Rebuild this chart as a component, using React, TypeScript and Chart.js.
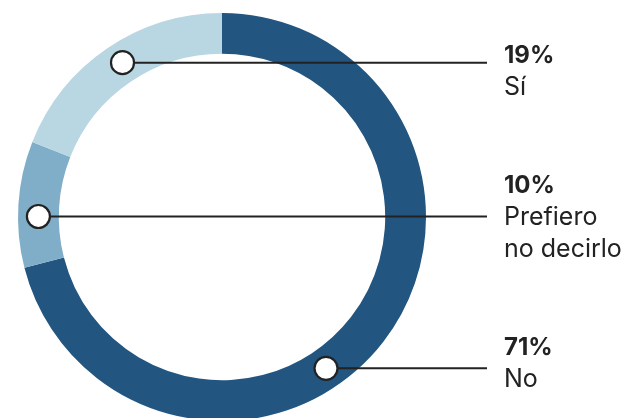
import React, { useEffect, useRef } from "react";
import { Chart, registerables } from "chart.js";

Chart.register(...registerables);

const categories = ["No", "Prefiero no decirlo", "Sí"];
const labelLines = [["No"], ["Prefiero", "no decirlo"], ["Sí"]];
const values = [71, 10, 19];
const percentLabels = ["71%", "10%", "19%"];
const colors = ["#22557f", "#80aec8", "#b9d6e3"];

// layout of the annotation blocks (percent baseline, leader-line y)
const labelBaselines = [355, 193, 63];
const leaderYs = [368.3, 216.5, 62.7];

const W = 639;
const H = 436;

const calloutPlugin = {
  id: "callouts",
  afterDraw(chart: any) {
    const ctx = chart.ctx as CanvasRenderingContext2D;
    const meta = chart.getDatasetMeta(0);
    const textX = 504;
    const lineEnd = 487;
    const lh = 32;
    ctx.save();
    meta.data.forEach((arc: any, i: number) => {
      const p = arc.getProps(["x", "y", "innerRadius", "outerRadius", "startAngle", "endAngle"], true);
      const rm = (p.innerRadius + p.outerRadius) / 2;
      const mid = (p.startAngle + p.endAngle) / 2;
      const ly = leaderYs[i];
      const dy = ly - p.y;
      const dx = Math.sqrt(Math.max(0, rm * rm - dy * dy));
      const cx = p.x + (Math.cos(mid) >= 0 ? dx : -dx);
      // leader line
      ctx.beginPath();
      ctx.strokeStyle = "#222222";
      ctx.lineWidth = 2;
      ctx.moveTo(cx, ly);
      ctx.lineTo(lineEnd, ly);
      ctx.stroke();
      // circle marker
      ctx.beginPath();
      ctx.arc(cx, ly, 11.5, 0, Math.PI * 2);
      ctx.fillStyle = "#ffffff";
      ctx.fill();
      ctx.lineWidth = 2.2;
      ctx.strokeStyle = "#222222";
      ctx.stroke();
      // texts
      ctx.fillStyle = "#222222";
      ctx.textAlign = "left";
      ctx.textBaseline = "alphabetic";
      const by = labelBaselines[i];
      ctx.font = "bold 24px Inter";
      ctx.fillText(percentLabels[i], textX, by);
      ctx.font = "25px Inter";
      labelLines[i].forEach((t, j) => {
        ctx.fillText(t, textX, by + lh * (j + 1));
      });
    });
    ctx.restore();
  },
};

export default function App() {
  const ref = useRef<HTMLCanvasElement | null>(null);
  useEffect(() => {
    if (!ref.current) return;
    const chart = new Chart(ref.current, {
      type: "doughnut",
      data: {
        labels: categories,
        datasets: [
          {
            data: values,
            backgroundColor: colors,
            borderWidth: 0,
            hoverOffset: 0,
          },
        ],
      },
      options: {
        responsive: false,
        animation: false,
        events: [],
        cutout: "80%",
        rotation: 0,
        layout: { padding: { left: 18, right: W - 426, top: 13, bottom: H - 421 } },
        plugins: { legend: { display: false }, tooltip: { enabled: false } },
      },
      plugins: [calloutPlugin],
    });
    return () => chart.destroy();
  }, []);
  return (
    <div style={{ position: "fixed", left: 0, top: 0, width: 639, height: 418, overflow: "hidden", background: "#fff" }}>
      <canvas ref={ref} width={W} height={H} style={{ position: "absolute", left: 0, top: 0, width: W, height: H }} />
    </div>
  );
}
